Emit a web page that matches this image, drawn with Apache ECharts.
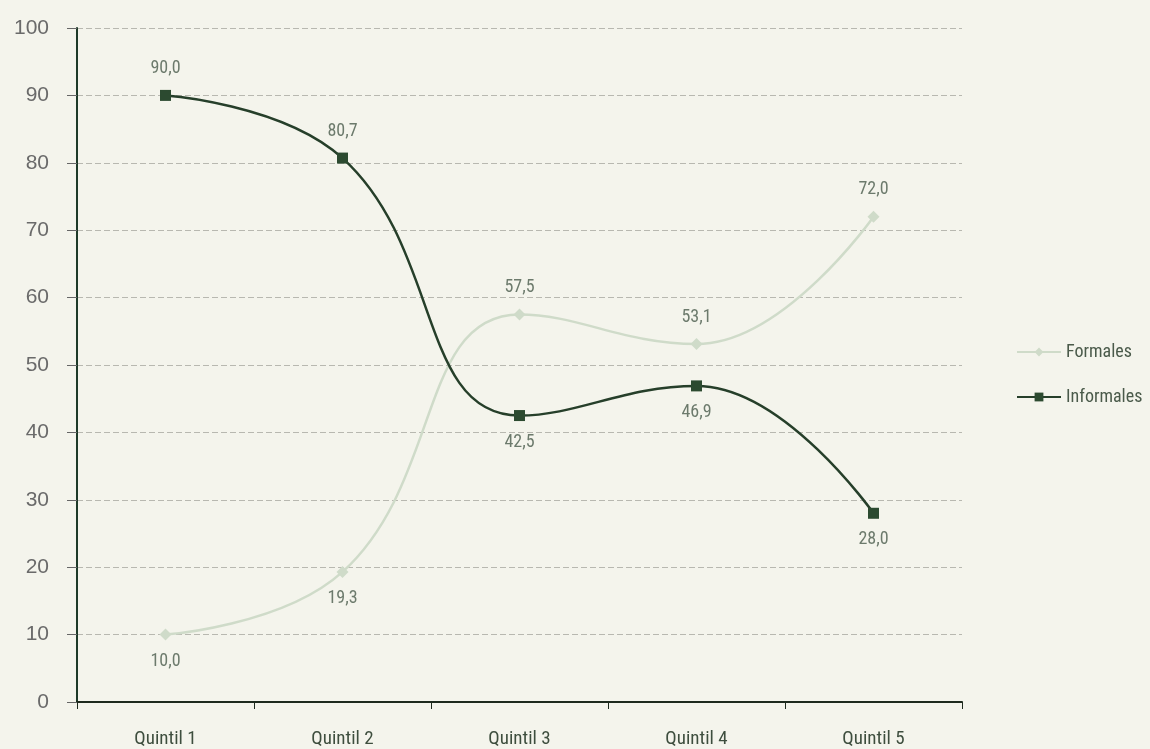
<!DOCTYPE html>
<html><head><meta charset="utf-8">
<script src="https://cdn.jsdelivr.net/npm/echarts@6/dist/echarts.min.js"></script>
<style>html,body{margin:0;padding:0;background:#f4f4ec;}#c{width:1150px;height:749px;}</style>
</head><body><div id="c"></div>
<script>
const categories = ['Quintil 1','Quintil 2','Quintil 3','Quintil 4','Quintil 5'];
const formales = [10.0, 19.3, 57.5, 53.1, 72.0];
const informales = [90.0, 80.7, 42.5, 46.9, 28.0];
const formalesLabelPos = ['bottom','bottom','top','top','top'];
const informalesLabelPos = ['top','top','bottom','bottom','bottom'];
const yTicks = [0,10,20,30,40,50,60,70,80,90,100];

const fmt = v => v.toFixed(1).replace('.', ',');
const font = '"Liberation Sans Narrow", "Roboto Condensed", Roboto, sans-serif';

function mk(vals, pos) {
  return vals.map((v,i)=>({value:v, label:{position:pos[i]}}));
}

const chart = echarts.init(document.getElementById('c'));
chart.setOption({
  backgroundColor:'#f4f4ec',
  animation:false,
  grid:{left:77, right:188, top:28, bottom:46, containLabel:false},
  legend:{
    orient:'vertical', left:1011, top:338, itemGap:27, itemWidth:44, itemHeight:11,
    textStyle:{fontFamily:font, fontSize:18, color:'#4a5a4a'},
    data:['Formales','Informales']
  },
  xAxis:{
    type:'category', data:categories, boundaryGap:true,
    axisLine:{lineStyle:{color:'#1e2a1e', width:2}},
    axisTick:{show:true, length:7, lineStyle:{color:'#1e2a1e'}},
    axisLabel:{fontFamily:font, fontSize:19, color:'#3e4e3e', margin:28}
  },
  yAxis:{
    type:'value', min:yTicks[0], max:yTicks[yTicks.length-1], interval:10,
    axisLine:{show:true, lineStyle:{color:'#1e3a28', width:2}},
    axisTick:{show:true, inside:false, length:10, lineStyle:{color:'#666'}},
    axisLabel:{fontFamily:'"Liberation Sans", Arial, sans-serif', fontSize:21, color:'#6a6a6a', margin:28},
    splitLine:{show:true, lineStyle:{color:'#b8b8b0', type:[6,3], width:1}}
  },
  series:[
    {
      name:'Formales', type:'line', smooth:0.45,
      data: mk(formales, formalesLabelPos),
      symbol:'diamond', symbolSize:12,
      lineStyle:{color:'#cfdbc9', width:2.5},
      itemStyle:{color:'#cfdbc9'},
      label:{show:true, formatter:p=>fmt(p.value), fontFamily:font, fontSize:18, color:'#6c7a6c', distance:12}
    },
    {
      name:'Informales', type:'line', smooth:0.45,
      data: mk(informales, informalesLabelPos),
      symbol:'rect', symbolSize:11,
      lineStyle:{color:'#263f2a', width:2.5},
      itemStyle:{color:'#2c4a30'},
      label:{show:true, formatter:p=>fmt(p.value), fontFamily:font, fontSize:18, color:'#6c7a6c', distance:12}
    }
  ]
});
</script></body></html>
